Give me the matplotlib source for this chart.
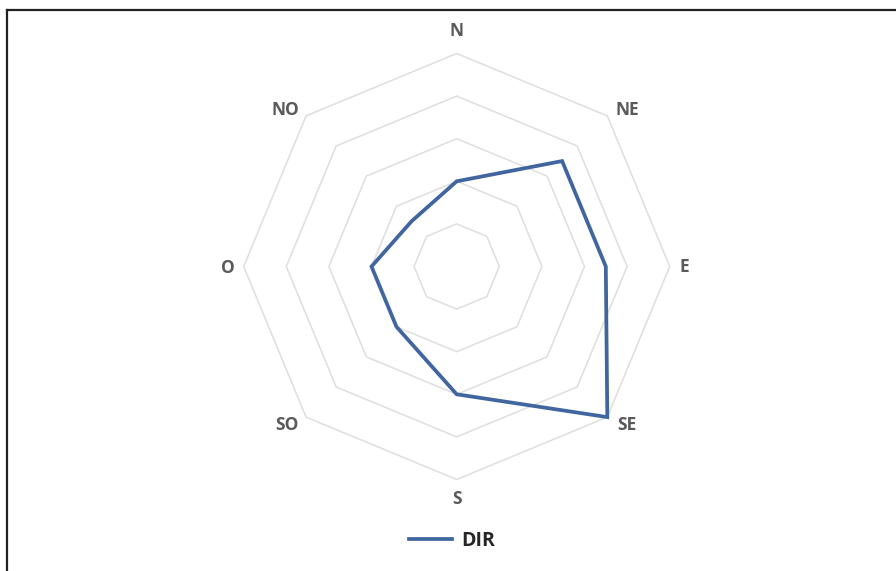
import numpy as np
import matplotlib
matplotlib.use("Agg")
import matplotlib.pyplot as plt
from matplotlib.lines import Line2D
from matplotlib.patches import Polygon

categories = ["N", "NE", "E", "SE", "S", "SO", "O", "NO"]
values = [2.0, 3.5, 3.5, 5.0, 3.0, 2.0, 2.0, 1.5]
ring_levels = [1, 2, 3, 4, 5]
series_name = "DIR"

W, H = 896, 571
fig = plt.figure(figsize=(W / 100, H / 100), dpi=100)
ax = fig.add_axes([0, 0, 1, 1])
unit = 42.6  # px per data unit
cx, cy = 456.7, 266.5
ax.set_xlim(-cx / unit, (W - cx) / unit)
ax.set_ylim(-(H - cy) / unit, cy / unit)
ax.axis("off")

n = len(categories)
theta = np.arange(n) * 2 * np.pi / n
sx, sy = np.sin(theta), np.cos(theta)

grid_color = "#dedede"
for r in ring_levels:
    ax.add_patch(Polygon(np.column_stack([r * sx, r * sy]), closed=True, fill=False,
                         edgecolor=grid_color, lw=1.1, zorder=1))

v = np.array(values)
line_color = "#41659e"
ax.add_patch(Polygon(np.column_stack([v * sx, v * sy]), closed=True, fill=False,
                     edgecolor=line_color, lw=2.7, joinstyle="miter", zorder=3))

offsets = [(0, 22), (20, 6), (15, -1), (20, -8), (0, -20), (-19, -8), (-16, -1), (-21, 6)]
rmax = ring_levels[-1]
for lab, x0, y0, off in zip(categories, rmax * sx, rmax * sy, offsets):
    ax.annotate(lab, (x0, y0), xytext=off, textcoords="offset pixels",
                ha="center", va="center", fontsize=12.5, color="#5a5a5a",
                family="Open Sans", fontweight="bold")

handle = Line2D([], [], color=line_color, lw=2.7)
leg = fig.legend([handle], [series_name], loc="center", bbox_to_anchor=(452 / W, 1 - 541 / H),
                 frameon=False, handlelength=2.2, handletextpad=0.5,
                 prop={"family": "Open Sans", "size": 14, "weight": "bold"})
for t in leg.get_texts():
    t.set_color("#262626")

# border (left/top dark)
fig.add_artist(Line2D([7 / W, 7 / W], [0, 1 - 10 / H], transform=fig.transFigure, color="#222222", lw=1.6))
fig.add_artist(Line2D([7 / W, 1], [1 - 10 / H, 1 - 10 / H], transform=fig.transFigure, color="#222222", lw=1.6))

fig.savefig("out.png", dpi=100, facecolor="white")
